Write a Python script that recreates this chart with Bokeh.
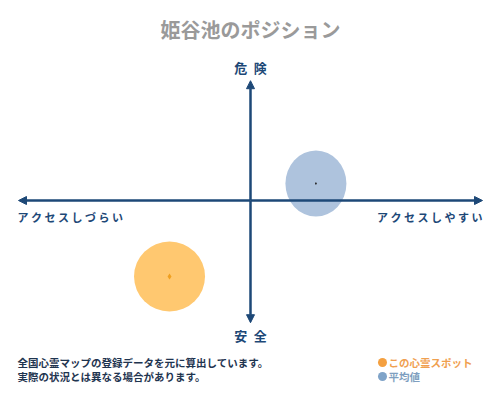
from bokeh.plotting import figure
from bokeh.models import Range1d, Arrow, NormalHead, Label, ColumnDataSource
from bokeh.embed import file_html
from bokeh.resources import INLINE

# ---- data (chart units: axes span -100..100) ----
series_names = ["この心霊スポット", "平均値"]
access_x = [-34.9, 28.2]      # access: easy(+) / hard(-)
danger_y = [-62.8, 14.0]      # danger(+) / safe(-)
axis_labels = {"top": "危\u2002険", "bottom": "安\u2002全",
               "left": "アクセスしづらい", "right": "アクセスしやすい"}
title_text = "姫谷池のポジション"
notes = ["全国心霊マップの登録データを元に算出しています。",
         "実際の状況とは異なる場合があります。"]

W, H = 484, 384
# pixel mapping (reference image px) -> chart units
CX, CY = 250, 200
SX, SY = 2.32, 1.21
def dx(px): return (px - CX) / SX
def dy(py): return (CY - py) / SY

p = figure(width=W, height=H, output_backend="svg", toolbar_location=None,
           x_range=Range1d(dx(0), dx(W)), y_range=Range1d(dy(H), dy(0)),
           min_border=0, min_border_left=0, min_border_right=0,
           min_border_top=0, min_border_bottom=0)
p.axis.visible = False
p.grid.visible = False
p.outline_line_color = None
p.background_fill_color = "white"
p.border_fill_color = "white"

navy = "#1d4877"
FONT = "Noto Sans CJK JP"

# axes arrows
for (xs, ys, xe, ye) in [(0, 0, 100, 0), (0, 0, -100, 0), (0, 0, 0, 99), (0, 0, 0, -101)]:
    p.add_layout(Arrow(end=NormalHead(size=8, fill_color=navy, line_color=navy),
                       x_start=xs, y_start=ys, x_end=xe, y_end=ye,
                       line_color=navy, line_width=2.5))

# bubbles
src = ColumnDataSource(dict(x=access_x, y=danger_y,
                            w=[71, 61], h=[70, 66],
                            c=["#ffc870", "#aec3dd"],
                            mc=["#f0a020", "#222222"],
                            ms=[6, 3]))
p.ellipse(x="x", y="y", width="w", height="h", width_units="screen",
          height_units="screen", fill_color="c", line_color=None, source=src)
p.scatter(x="x", y="y", size="ms", marker="diamond", fill_color="mc",
          line_color=None, source=src)

def lab(text, px, py, size, color, align="left", bold=False):
    p.add_layout(Label(x=dx(px), y=dy(py), text=text, text_font=FONT,
                       text_font_size=f"{size}px", text_color=color,
                       text_align=align, text_baseline="middle",
                       text_font_style="bold" if bold else "normal"))

lab(title_text, 250, 29, 20, "#9a9a9a", "center", True)
lab(axis_labels["top"], 250, 67, 13, navy, "center", True)
lab(axis_labels["bottom"], 250, 335, 13, navy, "center", True)
lab(" ".join(axis_labels["left"]), 17, 216, 11, navy, "left", True)
lab(" ".join(axis_labels["right"]), 482, 216, 11, navy, "right", True)

R1, R2 = 362, 376
lab(notes[0], 17, R1, 10.5, "#1f3550", "left", True)
lab(notes[1], 17, R2, 10.5, "#1f3550", "left", True)

# legend
leg_colors = ["#f4a040", "#7fa3c8"]
leg_text_colors = ["#f0a050", "#7f9fc0"]
leg = ColumnDataSource(dict(x=[dx(382), dx(382)], y=[dy(R1), dy(R2)], c=leg_colors))
p.scatter(x="x", y="y", size=9, fill_color="c", line_color=None, source=leg)
lab(series_names[0], 388, R1, 10.5, leg_text_colors[0], "left", True)
lab(series_names[1], 388, R2, 10.5, leg_text_colors[1], "left", True)

open("out.html", "w").write(file_html(p, INLINE))
